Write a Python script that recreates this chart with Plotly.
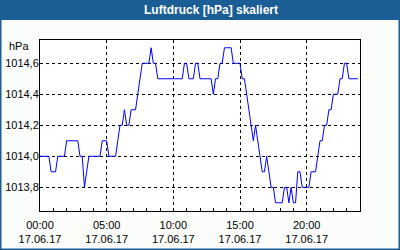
import plotly.graph_objects as go
import pandas as pd

# Luftdruck (hPa), 10-minute samples from 17.06.17 00:00
start = "2017-06-17 00:00"
pressure = [
    1014.0, 1014.0, 1014.0, 1014.0, 1014.0, 1013.9,   # 00
    1013.9, 1013.9, 1014.0, 1014.0, 1014.0, 1014.0,   # 01
    1014.1, 1014.1, 1014.1, 1014.1, 1014.1, 1014.1,   # 02
    1014.0, 1014.0, 1013.8, 1013.9, 1014.0, 1014.0,   # 03
    1014.0, 1014.0, 1014.0, 1014.0, 1014.1, 1014.1,   # 04
    1014.1, 1014.0, 1014.0, 1014.0, 1014.0, 1014.1,   # 05
    1014.2, 1014.2, 1014.3, 1014.2, 1014.2, 1014.3,   # 06
    1014.3, 1014.3, 1014.4, 1014.5, 1014.6, 1014.6,   # 07
    1014.6, 1014.6, 1014.7, 1014.6, 1014.6, 1014.5,   # 08
    1014.5, 1014.5, 1014.5, 1014.5, 1014.5, 1014.5,   # 09
    1014.5, 1014.5, 1014.5, 1014.5, 1014.5, 1014.6,   # 10
    1014.6, 1014.5, 1014.5, 1014.5, 1014.6, 1014.6,   # 11
    1014.5, 1014.5, 1014.5, 1014.5, 1014.5, 1014.5,   # 12
    1014.4, 1014.5, 1014.5, 1014.6, 1014.6, 1014.7,   # 13
    1014.7, 1014.7, 1014.7, 1014.6, 1014.6, 1014.6,   # 14
    1014.6, 1014.5, 1014.5, 1014.4, 1014.3, 1014.2,   # 15
    1014.1, 1014.2, 1014.1, 1014.0, 1013.9, 1013.9,   # 16
    1014.0, 1013.9, 1013.8, 1013.8, 1013.7, 1013.7,   # 17
    1013.7, 1013.7, 1013.8, 1013.8, 1013.7, 1013.8,   # 18
    1013.7, 1013.7, 1013.9, 1013.9, 1013.8, 1013.8,   # 19
    1013.8, 1013.8, 1013.9, 1013.9, 1013.9, 1014.0,   # 20
    1014.1, 1014.1, 1014.2, 1014.2, 1014.3, 1014.3,   # 21
    1014.4, 1014.4, 1014.4, 1014.5, 1014.5, 1014.6,   # 22
    1014.6, 1014.5, 1014.5, 1014.5, 1014.5, 1014.5,   # 23
]
times = pd.date_range(start, periods=len(pressure), freq="10min")

y_ticks = [1013.8, 1014.0, 1014.2, 1014.4, 1014.6]
y_range = [1013.647, 1014.75]
x_major = pd.date_range(start, periods=5, freq="5h")
x_range = ["2017-06-17 00:00", "2017-06-18 00:00"]

title_text = "Luftdruck [hPa] skaliert"
unit_text = "hPa"

W, H = 400, 250
L, R, T, B = 40, 40, 40, 39
pw, ph = W - L - R, H - T - B

def px_x(p):
    return (p - L) / pw

def px_y(p):
    return 1 - (p - T) / ph

FONT = "Liberation Sans, Arial, sans-serif"
BLUE = "#1b5e95"

fig = go.Figure()
fig.add_trace(go.Scatter(x=times, y=pressure, mode="lines",
                         line=dict(color="#0000ff", width=1),
                         showlegend=False, hoverinfo="skip"))
# carrier trace so the date-label axis is drawn (invisible)
fig.add_trace(go.Scatter(x=times, y=pressure, mode="lines", xaxis="x2",
                         line=dict(color="rgba(0,0,0,0)", width=0),
                         showlegend=False, hoverinfo="skip"))

fig.update_layout(
    width=W, height=H,
    margin=dict(l=L, r=R, t=T, b=B, pad=0, autoexpand=False),
    paper_bgcolor="#fbfdfb",
    plot_bgcolor="#ffffff",
    separators=",.",
    font=dict(family=FONT, size=11, color="#000000"),
    title=dict(text="<b>" + title_text + "</b>", x=px_x(211), xref="paper",
               xanchor="center", y=1 - 10 / H, yref="container", yanchor="middle",
               font=dict(family=FONT, size=12, color="#ffffff")),
    xaxis=dict(type="date", range=x_range, tickvals=x_major, tickformat="%H:%M",
               showgrid=True, gridcolor="#000000", gridwidth=1, griddash="3px,3px",
               ticks="inside", ticklen=3, tickcolor="#000000",
               showline=True, linecolor="#000000", linewidth=1, mirror=True,
               zeroline=False, automargin=False,
               minor=dict(dtick=3600000, ticks="inside", ticklen=3,
                          tickcolor="#000000", showgrid=False),
               tickfont=dict(family=FONT, size=11, color="#000000"),
               ticklabelstandoff=4),
    xaxis2=dict(type="date", range=x_range, overlaying="x", anchor="y", side="bottom",
                tickvals=x_major, tickformat="%d.%m.%y", showgrid=False,
                ticks="", showline=False, zeroline=False, automargin=False,
                tickfont=dict(family=FONT, size=11, color="#000000"),
                ticklabelstandoff=20),
    yaxis=dict(range=y_range, tickvals=y_ticks, tickformat=".1f",
               showgrid=True, gridcolor="#000000", gridwidth=1, griddash="3px,3px",
               ticks="", showline=True, linecolor="#000000", linewidth=1, mirror=True,
               zeroline=False, ticklabelstandoff=-2, automargin=False,
               tickfont=dict(family=FONT, size=11, color="#000000")),
    shapes=[
        dict(type="rect", xref="paper", yref="paper",
             x0=px_x(0), x1=px_x(W), y0=px_y(0), y1=px_y(20),
             fillcolor=BLUE, line=dict(width=0), layer="below"),
        dict(type="rect", xref="paper", yref="paper",
             x0=px_x(0), x1=px_x(W), y0=px_y(H), y1=px_y(0),
             fillcolor="rgba(0,0,0,0)", line=dict(color=BLUE, width=3)),
    ],
    annotations=[
        dict(text=unit_text, xref="paper", yref="paper", x=px_x(7), y=px_y(45.5),
             xanchor="left", yanchor="middle", showarrow=False,
             font=dict(family=FONT, size=11, color="#000000")),
    ],
)

fig.write_html("out.html")
